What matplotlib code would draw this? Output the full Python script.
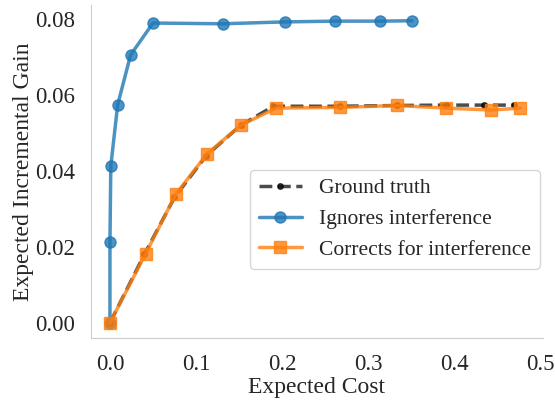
import matplotlib
matplotlib.use('Agg')
from matplotlib import pyplot as plt
import seaborn as sns

sns.set_style('whitegrid')
plt.rcParams['font.family'] = ['Liberation Serif', 'DejaVu Serif']

# ground truth
truth_cost = [0.0, 0.04, 0.075, 0.112, 0.152, 0.19, 0.267, 0.334, 0.39, 0.435, 0.47]
truth_gain = [0.0, 0.0180, 0.0330, 0.0440, 0.0520, 0.0570, 0.0570, 0.0572, 0.0573, 0.0573, 0.0573]

# ignores interference
ign_cost = [0.0, 0.0, 0.001, 0.009, 0.024, 0.050, 0.131, 0.203, 0.262, 0.314, 0.351]
ign_gain = [0.0, 0.0213, 0.0413, 0.0574, 0.0705, 0.0789, 0.0787, 0.0792, 0.0794, 0.0794, 0.0795]

# corrects for interference
cor_cost = [0.0, 0.0415, 0.0767, 0.113, 0.152, 0.193, 0.267, 0.334, 0.391, 0.443, 0.477]
cor_gain = [0.0, 0.0182, 0.0339, 0.0445, 0.0520, 0.0565, 0.0567, 0.0572, 0.0565, 0.0560, 0.0565]

fig, ax = plt.subplots(figsize=(5.55, 4), dpi=100)

ax.plot(truth_cost, truth_gain, '--', marker='o', color='black', alpha=0.7,
		lw=2.5, markersize=4, label='Ground truth')
ax.plot(ign_cost, ign_gain, '-', marker='o', color='tab:blue', alpha=0.8,
		lw=2.5, markersize=8, label='Ignores interference')
ax.plot(cor_cost, cor_gain, '-', marker='s', color='tab:orange', alpha=0.8,
		lw=2.5, markersize=8, label='Corrects for interference')

ax.set_xlim(-0.022, 0.503)
ax.set_ylim(-0.004, 0.0837)
ax.set_xticks([0.0, 0.1, 0.2, 0.3, 0.4, 0.5])
ax.set_yticks([0.0, 0.02, 0.04, 0.06, 0.08])
ax.set_xticklabels(['0.0', '0.1', '0.2', '0.3', '0.4', '0.5'])
ax.set_yticklabels(['0.00', '0.02', '0.04', '0.06', '0.08'])
ax.grid(False)
ax.tick_params(labelsize=16.5, pad=8)
ax.set_xlabel('Expected Cost', fontsize=17, labelpad=1.5)
ax.set_ylabel('Expected Incremental Gain', fontsize=17, labelpad=1)
sns.despine(ax=ax)

ax.legend(loc='center right', bbox_to_anchor=(0.993, 0.357), fontsize=15.5,
		  borderaxespad=0.0, handlelength=2.0)

plt.subplots_adjust(left=0.164, right=0.978, top=0.988, bottom=0.155)
plt.savefig('out.png')
